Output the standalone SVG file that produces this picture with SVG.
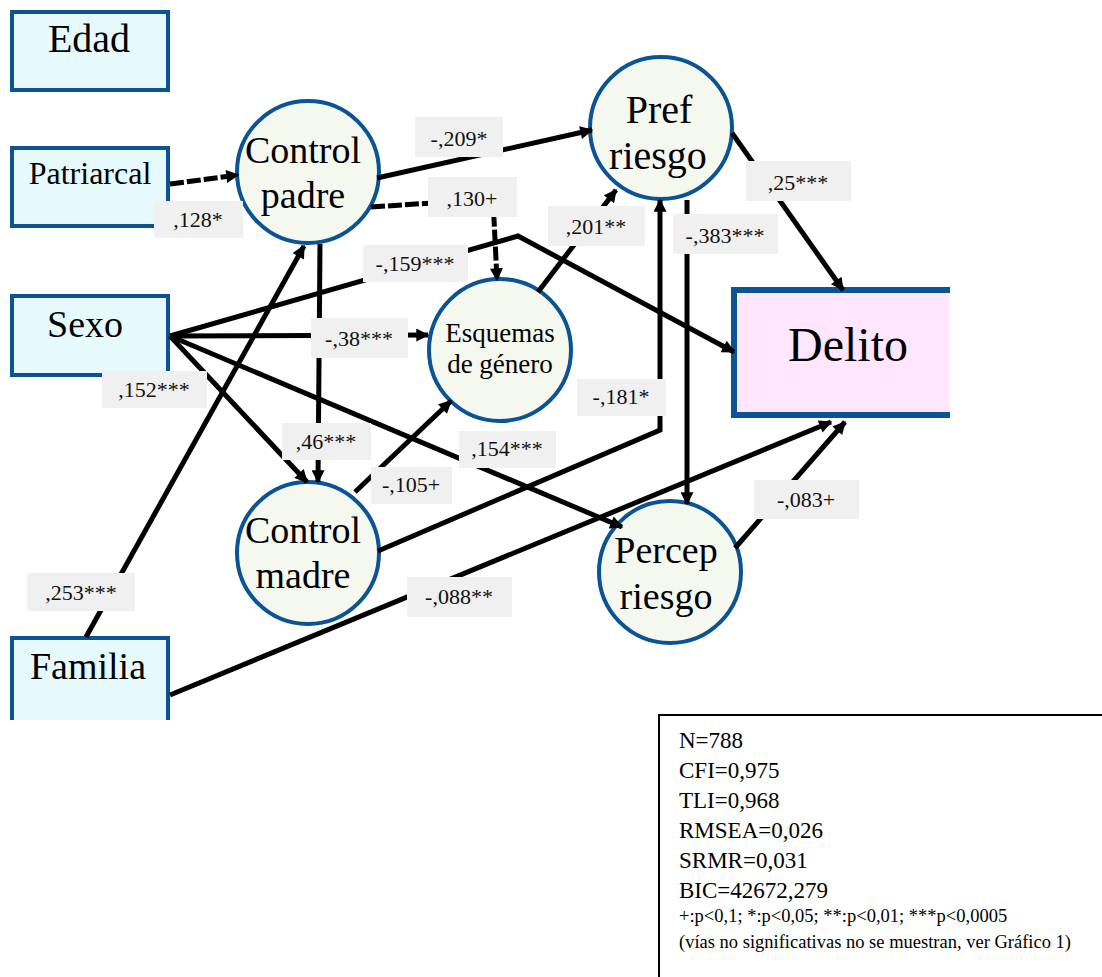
<svg xmlns="http://www.w3.org/2000/svg" width="1102" height="977" viewBox="0 0 1102 977">
<style>
.box{fill:#e6fafe;stroke:#0b5394;stroke-width:4}
.circ{fill:#f4f8ef;stroke:#0b5394;stroke-width:4}
.nt{font-family:"Liberation Serif",serif;fill:#000;text-anchor:middle}
.ln{fill:none;stroke:#000;stroke-width:5;marker-end:url(#ah)}
.dash{stroke-dasharray:14 3}
.lb rect{fill:#f0f0f0}
.lb text{font-family:"Liberation Serif",serif;font-size:22px;fill:#111;text-anchor:middle}
.st{font-family:"Liberation Serif",serif;fill:#000}
</style>
<defs>
<marker id="ah" viewBox="0 0 10 10" refX="9" refY="5" markerWidth="3" markerHeight="2.6" orient="auto" markerUnits="strokeWidth">
<path d="M0,0 L10,5 L0,10 z" fill="#000"/>
</marker>
</defs>
<rect width="1102" height="977" fill="#fff"/>

<g id="edad"><rect class="box" x="12" y="12" width="156" height="78"/><text class="nt" x="89" y="52" font-size="40">Edad</text></g>
<g id="patriarcal"><rect class="box" x="12" y="148" width="156" height="78"/><text class="nt" x="90" y="184" font-size="32">Patriarcal</text></g>
<g id="sexo"><rect class="box" x="12" y="296" width="156" height="79"/><text class="nt" x="85" y="337" font-size="38">Sexo</text></g>
<g id="familia"><path d="M12,720 L12,638 L168,638 L168,720" fill="#e6fafe" stroke="#0b5394" stroke-width="4"/><text class="nt" x="88" y="679" font-size="38">Familia</text></g>
<g id="delito"><path d="M950,290 L734,290 L734,415 L950,415" fill="#ffe6fc" stroke="#0b5394" stroke-width="6"/><text class="nt" x="848" y="361" font-size="48">Delito</text></g>
<g id="control-padre"><circle class="circ" cx="308" cy="172" r="71"/><text class="nt" x="303" y="163" font-size="38">Control</text><text class="nt" x="303" y="208" font-size="38">padre</text></g>
<g id="pref-riesgo"><circle class="circ" cx="661" cy="128" r="71"/><text class="nt" x="659" y="123" font-size="40">Pref</text><text class="nt" x="658" y="169" font-size="40">riesgo</text></g>
<g id="esquemas"><circle class="circ" cx="500" cy="350" r="71"/><text class="nt" x="500" y="342" font-size="27">Esquemas</text><text class="nt" x="500" y="373" font-size="27">de género</text></g>
<g id="control-madre"><circle class="circ" cx="308" cy="553" r="71"/><text class="nt" x="303" y="543" font-size="38">Control</text><text class="nt" x="303" y="588" font-size="38">madre</text></g>
<g id="percep-riesgo"><circle class="circ" cx="670" cy="572" r="71"/><text class="nt" x="666" y="563" font-size="38">Percep</text><text class="nt" x="666" y="609" font-size="38">riesgo</text></g>

<g id="connectors">
<path class="ln dash" d="M170,184 L238,175"/>
<path class="ln" d="M377,178 L592,130"/>
<path class="ln dash" d="M371,207 L493,199 L497,280"/>
<path class="ln" d="M170,336 L518,236 L734,352"/>
<path class="ln" d="M170,336 L428,335"/>
<path class="ln" d="M170,336 L307,482"/>
<path class="ln" d="M170,336 L622,527"/>
<path class="ln" d="M320,244 L318,482"/>
<path class="ln" d="M86,637 L304,246"/>
<path class="ln" d="M355,492 L451,401"/>
<path class="ln" d="M378,551 L660,430 L660,200"/>
<path class="ln" d="M538,292 L616,190"/>
<path class="ln" d="M687,200 L687,504"/>
<path class="ln" d="M732,133 L843,290"/>
<path class="ln" d="M170,695 L831,422"/>
<path class="ln" d="M735,548 L845,422"/>
</g>

<g id="labels" class="lb">
<rect x="154" y="201" width="89" height="37"/><text x="198" y="227">,128*</text>
<rect x="415" y="117" width="88" height="40"/><text x="459" y="146">-,209*</text>
<rect x="428" y="177" width="89" height="40"/><text x="472" y="206">,130+</text>
<rect x="363" y="245" width="105" height="37"/><text x="415" y="271">-,159***</text>
<rect x="548" y="206" width="97" height="40"/><text x="596" y="234">,201**</text>
<rect x="673" y="214" width="105" height="40"/><text x="725" y="243">-,383***</text>
<rect x="746" y="161" width="105" height="40"/><text x="798" y="190">,25***</text>
<rect x="311" y="318" width="97" height="40"/><text x="359" y="346">-,38***</text>
<rect x="102" y="371" width="105" height="37"/><text x="154" y="397">,152***</text>
<rect x="282" y="423" width="89" height="37"/><text x="326" y="449">,46***</text>
<rect x="371" y="467" width="81" height="37"/><text x="411" y="492">-,105+</text>
<rect x="577" y="379" width="89" height="37"/><text x="621" y="404">-,181*</text>
<rect x="459" y="431" width="97" height="37"/><text x="507" y="456">,154***</text>
<rect x="754" y="480" width="105" height="39"/><text x="806" y="507">-,083+</text>
<rect x="407" y="577" width="105" height="40"/><text x="459" y="604">-,088**</text>
<rect x="27" y="573" width="108" height="38"/><text x="81" y="600">,253***</text>
</g>

<g id="stats">
<rect x="659" y="715" width="460" height="280" fill="#fff" stroke="#000" stroke-width="2"/>
<text class="st" x="679" y="748" font-size="23">N=788</text>
<text class="st" x="679" y="778" font-size="23">CFI=0,975</text>
<text class="st" x="679" y="808" font-size="23">TLI=0,968</text>
<text class="st" x="679" y="838" font-size="23">RMSEA=0,026</text>
<text class="st" x="679" y="868" font-size="23">SRMR=0,031</text>
<text class="st" x="679" y="898" font-size="23">BIC=42672,279</text>
<text class="st" x="679" y="922" font-size="18.5">+:p&lt;0,1; *:p&lt;0,05; **:p&lt;0,01; ***p&lt;0,0005</text>
<text class="st" x="679" y="948" font-size="18.5">(vías no significativas no se muestran, ver Gráfico 1)</text>
</g>
</svg>
